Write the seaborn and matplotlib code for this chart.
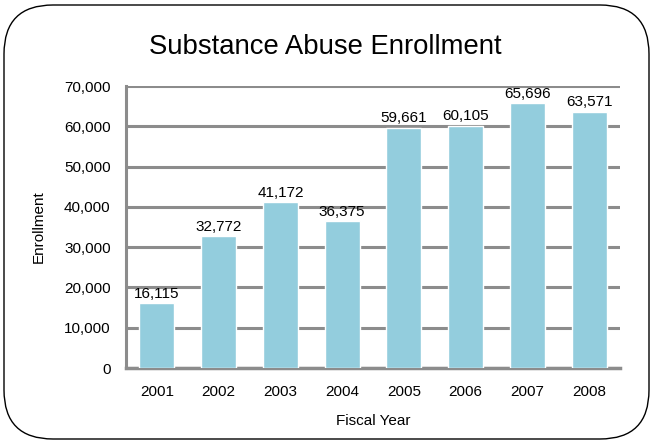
import matplotlib
matplotlib.use('Agg')
import matplotlib.pyplot as plt
import seaborn as sns
import pandas as pd
from matplotlib.patches import FancyBboxPatch
from matplotlib.ticker import FuncFormatter

# 데이터
years = ['2001', '2002', '2003', '2004', '2005', '2006', '2007', '2008']
enrollment = [16115, 32772, 41172, 36375, 59661, 60105, 65696, 63571]

df = pd.DataFrame({'Fiscal Year': years, 'Enrollment': enrollment})

sns.set_style('white')
plt.rcParams['font.family'] = ['Liberation Sans', 'DejaVu Sans']
plt.rcParams['text.color'] = 'black'
plt.rcParams['axes.labelcolor'] = 'black'
plt.rcParams['xtick.color'] = 'black'
plt.rcParams['ytick.color'] = 'black'

fig = plt.figure(figsize=(6.53, 4.44), dpi=100)

# 둥근 테두리
border = FancyBboxPatch((4 / 653, 5 / 444), 645 / 653, 434 / 444,
                        boxstyle='round,pad=0,rounding_size=0.075',
                        transform=fig.transFigure, facecolor='white',
                        edgecolor='black', linewidth=1.0, mutation_aspect=653 / 444,
                        zorder=-10)
fig.patches.append(border)

ax = fig.add_axes([126 / 653, 1 - 368 / 444, 494 / 653, 282 / 444])
ax.set_facecolor('none')

sns.barplot(data=df, x='Fiscal Year', y='Enrollment', color='#93cddd',
            saturation=1, width=0.57, ax=ax, zorder=3)

ax.set_ylim(0, 70000)
ax.set_yticks(range(0, 70001, 10000))
ax.yaxis.set_major_formatter(FuncFormatter(lambda v, p: f'{int(v):,}'))
ax.grid(axis='y', color='#8c8c8c', linewidth=2.2, zorder=0)
ax.set_axisbelow(True)

for s in ['top', 'right']:
    ax.spines[s].set_visible(False)
ax.spines['left'].set_color('#8c8c8c')
ax.spines['left'].set_linewidth(2.2)
ax.spines['bottom'].set_color('#8c8c8c')
ax.spines['bottom'].set_linewidth(2.5)

ax.tick_params(axis='y', length=6, width=2.2, color='#8c8c8c', labelsize=11, pad=5)
ax.tick_params(axis='x', length=0, labelsize=11, pad=12)

for i, v in enumerate(enrollment):
    ax.text(i, v + 600, f'{v:,}', ha='center', va='bottom', fontsize=11)

ax.set_xlabel('Fiscal Year', fontsize=11, labelpad=11)
ax.set_ylabel('Enrollment', fontsize=11, labelpad=13)

fig.text(325 / 653, 1 - 47 / 444, 'Substance Abuse Enrollment', ha='center', va='center',
         fontsize=19.8)

plt.savefig('out.png', dpi=100)
